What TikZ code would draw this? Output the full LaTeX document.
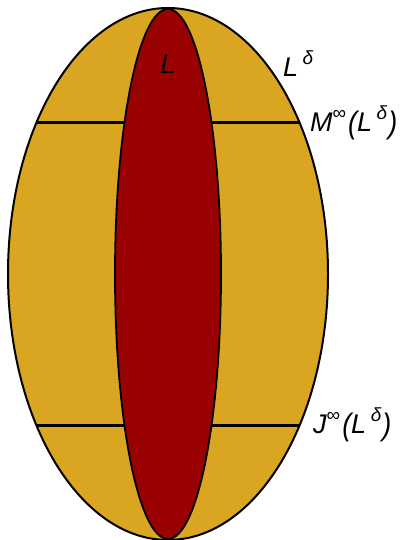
\documentclass[tikz,border=0pt]{standalone}
\usepackage{fontspec}
\setmainfont{Liberation Sans}
\definecolor{gold}{HTML}{DAA520}
\definecolor{darkred}{HTML}{990000}
\newcommand{\sups}[1]{\raisebox{0.45em}{\fontsize{19}{20}\selectfont #1}}
\newcommand{\bigpar}[1]{\raisebox{-0.06em}{\scalebox{1}[1.15]{#1}}}
\begin{document}
\begin{tikzpicture}[x=1pt,y=-1pt,
  lbl/.style={font=\fontsize{27}{30}\selectfont\itshape, inner sep=0pt},
  edge/.style={line width=2pt},
  chord/.style={line width=3pt}]
\useasboundingbox (0,0) rectangle (405,540);
\fill[gold] (168,274) ellipse [x radius=160, y radius=266];
\coordinate (a1) at (36,123);
\coordinate (b1) at (300,123);
\coordinate (a2) at (36,425);
\coordinate (b2) at (300,425);
\draw[chord] (a1) -- (b1);
\draw[chord] (a2) -- (b2);
\draw[fill=darkred, line width=1.8pt] (168,274) ellipse [x radius=53, y radius=265];
\draw[edge] (168,274) ellipse [x radius=160, y radius=266];
\node[lbl] (L) at (168,64) {L};
\node[lbl, anchor=west] (Ld) at (283,64) {L\,\sups{δ}};
\node[lbl, anchor=west] (M) at (310,123) {M\sups{\upshape ∞}\hspace{2pt}\bigpar{(}L\,\sups{δ}\hspace{1pt}\bigpar{)}};
\node[lbl, anchor=west] (J) at (313,425) {J\sups{\upshape ∞}\hspace{2pt}\bigpar{(}L\,\sups{δ}\hspace{1pt}\bigpar{)}};
\end{tikzpicture}
\end{document}
